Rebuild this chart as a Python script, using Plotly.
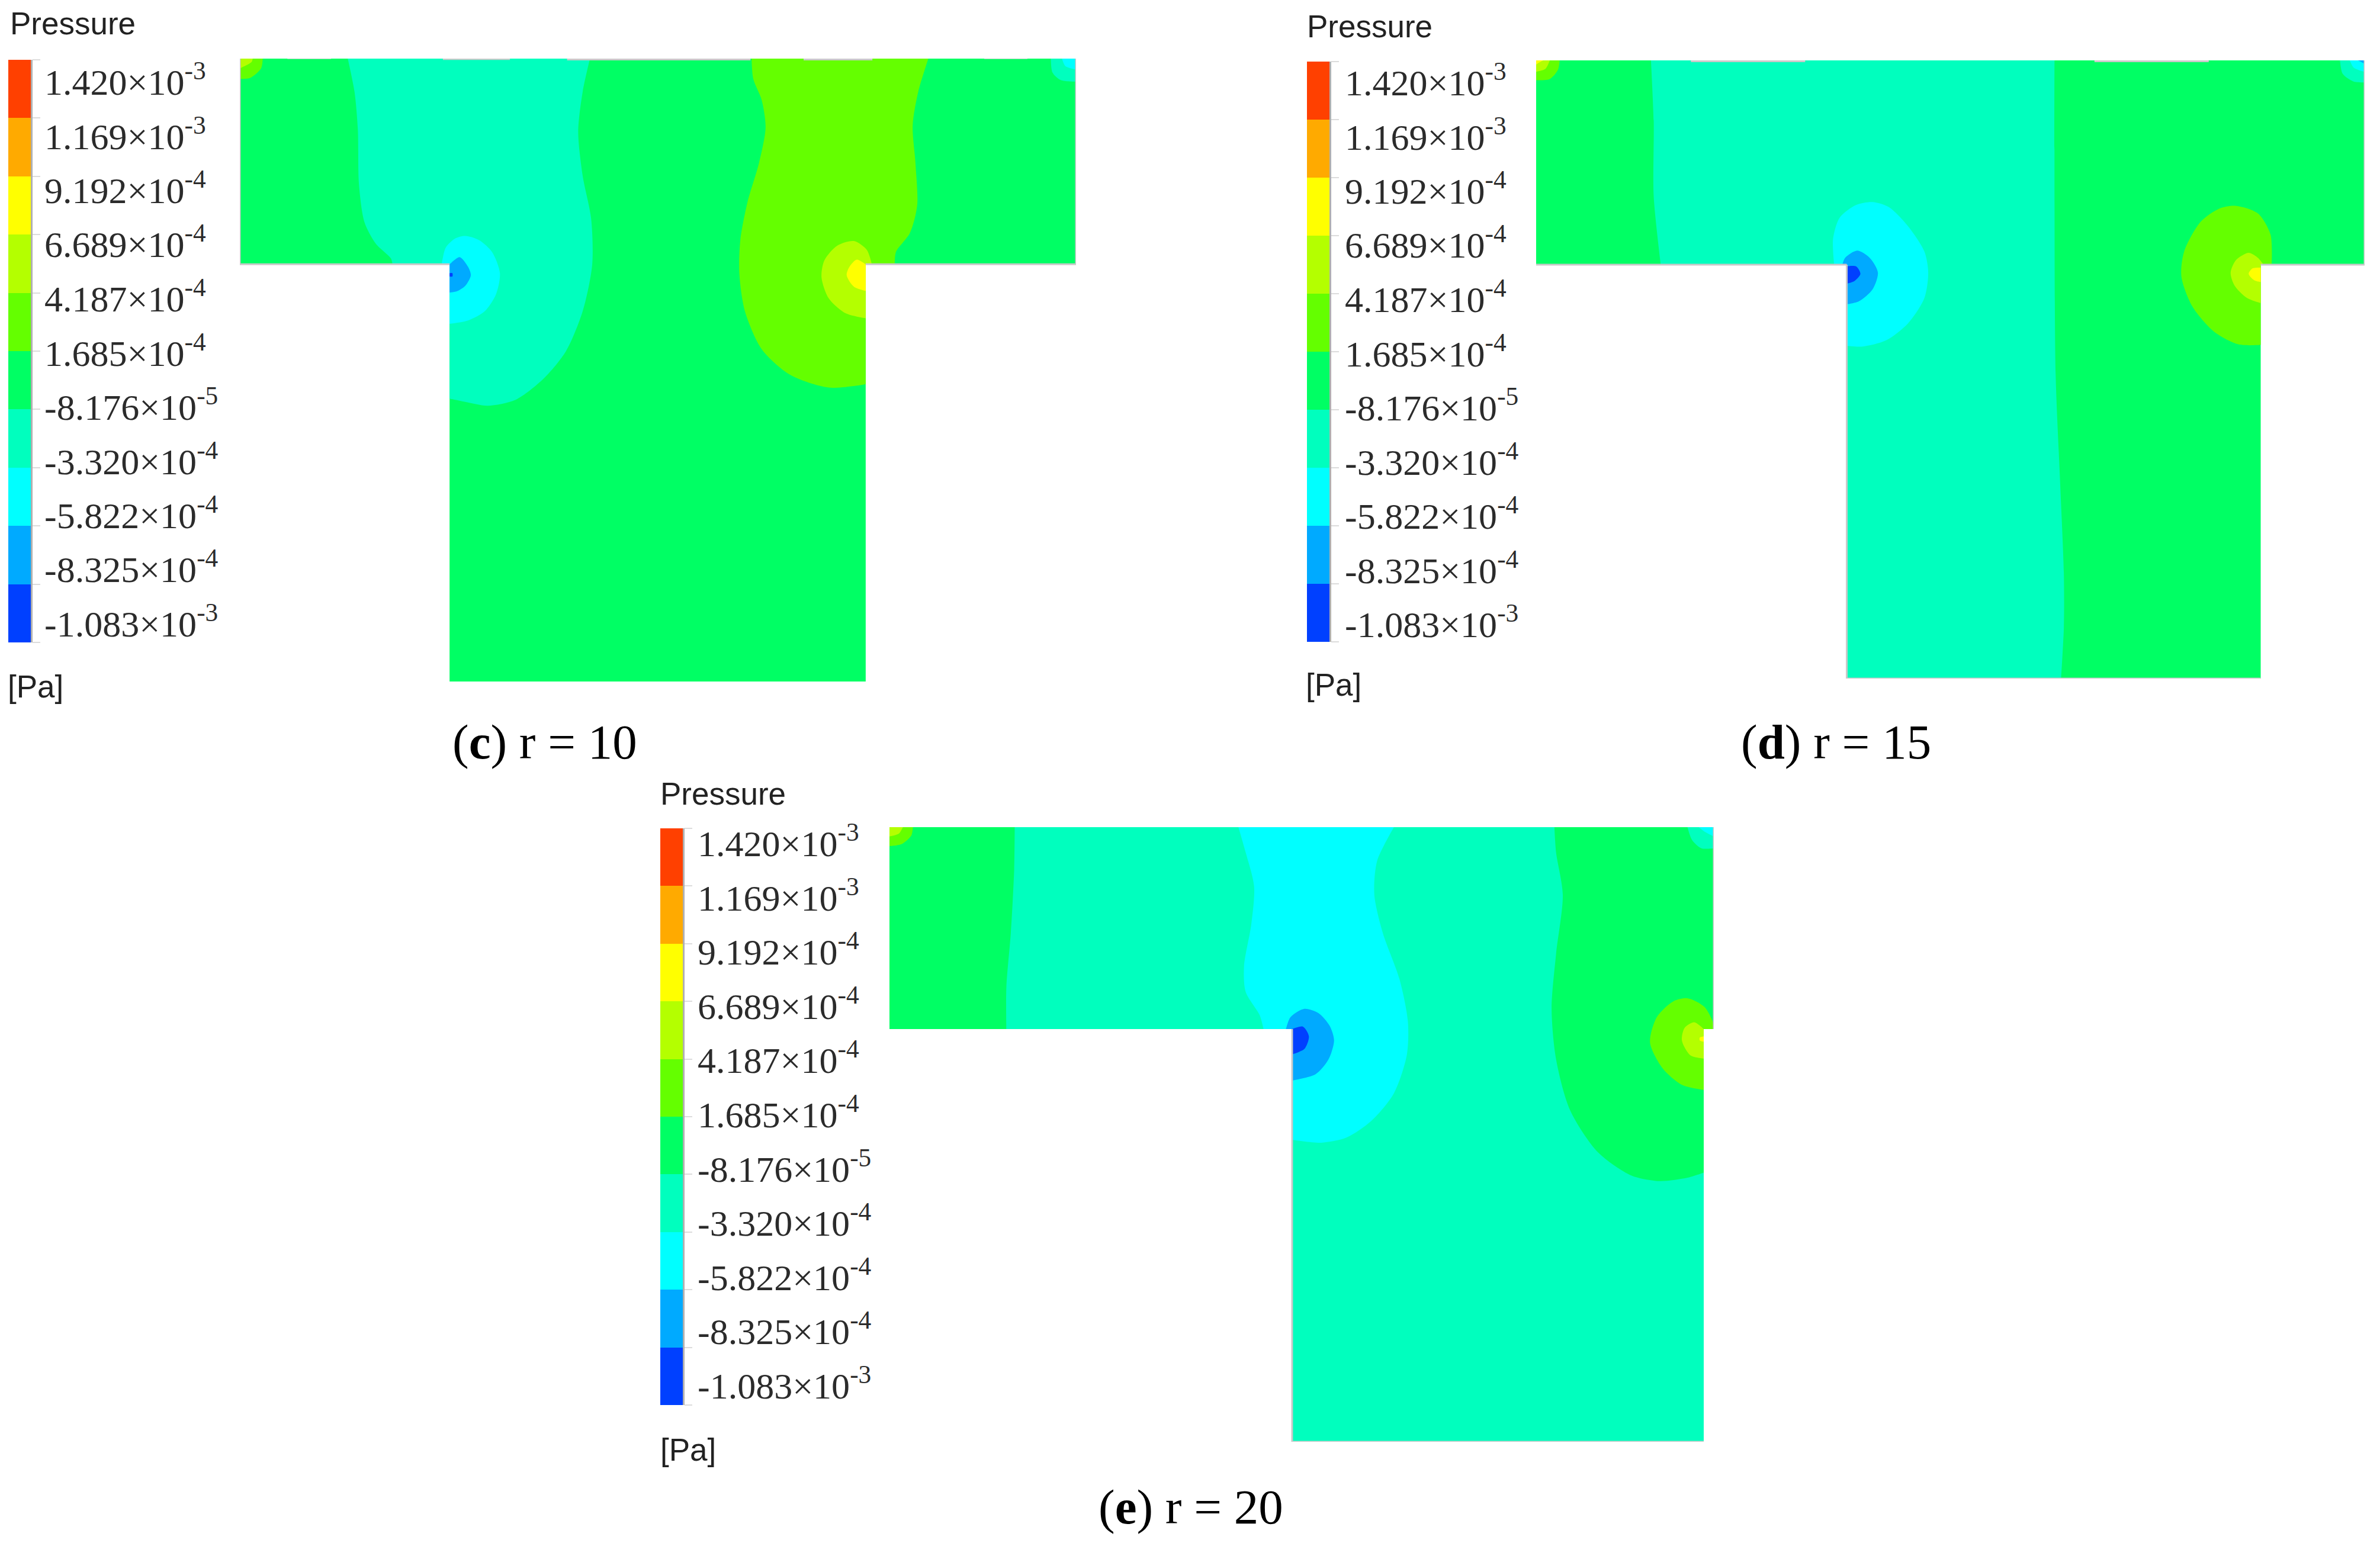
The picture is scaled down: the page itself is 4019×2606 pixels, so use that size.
import plotly.graph_objects as go

WIDTH = 4019
HEIGHT = 2606

pressure_labels = [
    "1.420×10<sup>-3</sup>", "1.169×10<sup>-3</sup>", "9.192×10<sup>-4</sup>",
    "6.689×10<sup>-4</sup>", "4.187×10<sup>-4</sup>", "1.685×10<sup>-4</sup>",
    "-8.176×10<sup>-5</sup>", "-3.320×10<sup>-4</sup>", "-5.822×10<sup>-4</sup>",
    "-8.325×10<sup>-4</sup>", "-1.083×10<sup>-3</sup>",
]

# top band first
band_colors = [
    "#ff4000", "#ffaa00", "#ffff00", "#b4ff00", "#64ff00",
    "#00ff64", "#00ffbe", "#00ffff", "#00aaff", "#0040ff",
]
RED, ORANGE, YELLOW, LIME, GREEN, SPRING, AQUA, CYAN, SKY, BLUE = band_colors

# contour outlines, one small list per region
c_outline = [(27, 52), (1522, 52), (1522, 539), (1146, 539), (1146, 1527),
             (402, 1527), (402, 539), (27, 539)]
c_aqua = [(220, 52), (232, 130), (238, 220), (240, 350), (250, 440), (270, 490),
          (297, 525), (300, 539), (402, 539), (402, 857), (430, 865), (470, 874),
          (520, 860), (570, 810), (610, 745), (640, 650), (657, 540), (655, 430),
          (640, 330), (632, 225), (640, 130), (653, 52)]
c_cyan = [(388, 539), (395, 500), (412, 478), (430, 472), (455, 482), (478, 510),
          (492, 560), (485, 610), (465, 650), (435, 672), (402, 680), (402, 539)]
c_sky = [(402, 539), (420, 522), (435, 545), (440, 565), (430, 590), (415, 603),
         (402, 606)]
c_blue = [(402, 560), (407, 560), (407, 568), (402, 568)]
c_green = [(942, 52), (945, 100), (960, 150), (967, 215), (955, 300), (935, 390),
           (922, 480), (920, 560), (930, 650), (960, 740), (1010, 800), (1080, 831),
           (1146, 823), (1146, 539), (1198, 539), (1200, 510), (1225, 465),
           (1238, 400), (1235, 300), (1230, 210), (1240, 130), (1258, 52)]
c_lime = [(1157, 539), (1148, 505), (1125, 484), (1095, 495), (1072, 530),
          (1067, 570), (1080, 620), (1110, 655), (1146, 667), (1146, 539)]
c_yellow = [(1146, 539), (1130, 528), (1117, 545), (1112, 565), (1125, 592),
            (1146, 602)]
c_tl_green = [(27, 52), (68, 52), (65, 75), (45, 98), (27, 100)]
c_tl_lime = [(27, 52), (50, 52), (48, 60), (27, 75)]
c_tr_aqua = [(1477, 52), (1480, 85), (1495, 103), (1522, 107), (1522, 52)]
c_tr_cyan = [(1497, 52), (1503, 70), (1522, 78), (1522, 52)]

d_outline = [(25, 58), (1540, 58), (1540, 541), (1350, 541), (1350, 1520),
             (593, 1520), (593, 541), (25, 541)]
d_aqua = [(235, 58), (240, 200), (240, 380), (253, 541), (593, 541), (593, 1520),
          (985, 1520), (990, 1400), (990, 1270), (983, 1050), (975, 800), (973, 400),
          (973, 58)]
d_cyan = [(570, 541), (568, 480), (580, 430), (610, 400), (640, 393), (670, 405),
          (705, 450), (735, 510), (742, 560), (735, 620), (705, 680), (665, 720),
          (620, 735), (593, 733), (593, 541)]
d_sky = [(585, 541), (590, 525), (612, 508), (635, 525), (650, 560), (640, 600),
         (615, 628), (593, 635), (593, 541)]
d_blue = [(593, 545), (610, 545), (618, 563), (607, 580), (593, 586)]
d_green = [(1350, 731), (1310, 730), (1265, 700), (1225, 640), (1205, 570),
           (1210, 510), (1240, 440), (1275, 408), (1305, 402), (1345, 420),
           (1368, 470), (1370, 541), (1350, 541)]
d_lime = [(1350, 632), (1325, 620), (1302, 590), (1295, 560), (1305, 530),
          (1328, 513), (1345, 525), (1355, 541), (1350, 541)]
d_yellow = [(1350, 548), (1335, 550), (1328, 563), (1338, 578), (1350, 582)]
d_tl_green = [(25, 58), (68, 58), (65, 80), (50, 102), (25, 105)]
d_tl_lime = [(25, 58), (50, 58), (42, 78), (25, 85)]
d_tl_yellow = [(25, 58), (38, 58), (32, 62), (25, 68)]
d_tr_aqua = [(1495, 58), (1500, 90), (1520, 108), (1540, 110), (1540, 58)]
d_tr_cyan = [(1513, 58), (1520, 75), (1540, 85), (1540, 58)]
d_tr_sky = [(1528, 58), (1540, 58), (1540, 66)]

e_outline = [(23, 50), (1497, 50), (1497, 528), (1479, 528), (1479, 1505),
             (743, 1505), (743, 528), (23, 528)]
e_spring_left = [(23, 50), (247, 50), (246, 150), (240, 300), (232, 430),
                 (232, 528), (23, 528)]
e_cyan = [(647, 50), (660, 110), (675, 190), (670, 280), (657, 380), (660, 440),
          (685, 495), (692, 528), (743, 528), (743, 790), (795, 797), (840, 785),
          (885, 745), (925, 680), (948, 590), (950, 510), (935, 410), (905, 300),
          (890, 210), (895, 130), (925, 50)]
e_sky = [(732, 528), (740, 500), (765, 480), (790, 490), (810, 520), (818, 555),
         (808, 600), (785, 635), (743, 650), (743, 528)]
e_blue = [(743, 528), (762, 522), (773, 545), (765, 575), (743, 588)]
e_spring_right = [(1212, 50), (1215, 110), (1227, 210), (1215, 350), (1207, 480),
                  (1215, 600), (1240, 720), (1290, 820), (1350, 875), (1400, 888),
                  (1450, 880), (1479, 868), (1479, 528), (1497, 528), (1497, 50)]
e_green = [(1479, 672), (1440, 660), (1405, 620), (1383, 560), (1395, 500),
           (1425, 462), (1450, 455), (1480, 475), (1495, 510), (1497, 528),
           (1479, 528)]
e_lime = [(1479, 598), (1455, 590), (1440, 555), (1445, 525), (1462, 512),
          (1479, 528)]
e_yellow = [(1472, 548), (1479, 545), (1479, 558), (1472, 555)]
e_tl_green = [(23, 50), (65, 50), (62, 70), (45, 90), (23, 95)]
e_tl_lime = [(23, 50), (47, 50), (40, 65), (23, 72)]
e_tr_aqua = [(1450, 50), (1458, 80), (1475, 100), (1497, 100), (1497, 50)]
e_tr_cyan = [(1470, 50), (1480, 60), (1497, 72), (1497, 50)]

# pale grey bits along the edges of each shape
c_edges = [[(112, 51), (190, 51)], [(390, 53), (510, 53)], [(612, 54), (940, 54)],
           [(1035, 54), (1158, 54)], [(1358, 51), (1435, 51)],
           [(27, 539), (402, 539)], [(1146, 539), (1522, 539)],
           [(27, 46), (27, 539)], [(1522, 46), (1522, 539)]]
d_edges = [[(70, 56), (145, 56)], [(308, 60), (517, 60)], [(1046, 60), (1255, 60)],
           [(1418, 56), (1480, 56)], [(25, 541), (593, 541)],
           [(1350, 541), (1540, 541)], [(593, 541), (593, 1520)],
           [(593, 1520), (1350, 1520)], [(1540, 50), (1540, 541)]]
e_edges = [[(65, 46), (105, 46)], [(300, 48), (380, 48)], [(1140, 48), (1285, 48)],
           [(1415, 45), (1450, 45)], [(743, 528), (743, 1505)],
           [(743, 1505), (1479, 1505)], [(1497, 45), (1497, 528)]]

panels = [
    {
        "caption": "(<b>c</b>) r = 10", "caption_xy": (920, 1253),
        "base": SPRING, "outline": c_outline, "edges": c_edges,
        "regions": [(AQUA, c_aqua), (CYAN, c_cyan), (SKY, c_sky), (BLUE, c_blue),
                    (GREEN, c_green), (LIME, c_lime), (YELLOW, c_yellow),
                    (GREEN, c_tl_green), (LIME, c_tl_lime),
                    (AQUA, c_tr_aqua), (CYAN, c_tr_cyan)],
        "read_x": (27, 1522), "page_x": (405, 1817),
        "read_y": (52, 1527), "page_y": (99, 1151),
        "bar_x": (14, 52), "bar_y": (101, 1085),
        "title_xy": (15, 40), "unit_xy": (11, 1159),
        "label_x": 73, "label_y": (134, 1049),
    },
    {
        "caption": "(<b>d</b>) r = 15", "caption_xy": (3100, 1253),
        "base": SPRING, "outline": d_outline, "edges": d_edges,
        "regions": [(AQUA, d_aqua), (CYAN, d_cyan), (SKY, d_sky), (BLUE, d_blue),
                    (GREEN, d_green), (LIME, d_lime), (YELLOW, d_yellow),
                    (GREEN, d_tl_green), (LIME, d_tl_lime), (YELLOW, d_tl_yellow),
                    (AQUA, d_tr_aqua), (CYAN, d_tr_cyan), (SKY, d_tr_sky)],
        "read_x": (25, 1540), "page_x": (2594, 3993),
        "read_y": (58, 1520), "page_y": (102, 1146),
        "bar_x": (2207, 2245), "bar_y": (104, 1084),
        "title_xy": (2205, 44), "unit_xy": (2203, 1156),
        "label_x": 2269, "label_y": (135, 1050),
    },
    {
        "caption": "(<b>e</b>) r = 20", "caption_xy": (2011, 2545),
        "base": AQUA, "outline": e_outline, "edges": e_edges,
        "regions": [(SPRING, e_spring_left), (CYAN, e_cyan), (SKY, e_sky),
                    (BLUE, e_blue), (SPRING, e_spring_right), (GREEN, e_green),
                    (LIME, e_lime), (YELLOW, e_yellow),
                    (GREEN, e_tl_green), (LIME, e_tl_lime),
                    (AQUA, e_tr_aqua), (CYAN, e_tr_cyan)],
        "read_x": (23, 1497), "page_x": (1502, 2894),
        "read_y": (50, 1505), "page_y": (1397, 2435),
        "bar_x": (1115, 1153), "bar_y": (1399, 2373),
        "title_xy": (1113, 1340), "unit_xy": (1113, 2448),
        "label_x": 1176, "label_y": (1420, 2336),
    },
]


def px_x(x):
    return x / WIDTH


def px_y(y):
    return 1 - y / HEIGHT


def sharpen_walls(points, outline):
    # a point on the shape's wall goes in twice so the spline keeps the wall straight
    wall_x = {p[0] for p in outline}
    wall_y = {p[1] for p in outline}
    path = []
    for p in points + [points[0]]:
        path.append(p)
        if p[0] in wall_x or p[1] in wall_y:
            path.append(p)
    return path


def add_polygon(fig, points, color, axis, outline):
    path = sharpen_walls(points, outline)
    fig.add_trace(
        go.Scatter(
            x=[p[0] for p in path],
            y=[p[1] for p in path],
            mode="lines",
            fill="toself",
            fillcolor=color,
            line=dict(width=0, shape="spline", smoothing=0.8, simplify=False),
            hoverinfo="skip",
            xaxis=f"x{axis}",
            yaxis=f"y{axis}",
        )
    )


def add_note(fig, text, x, y, size, family, color, xanchor="left"):
    fig.add_annotation(
        text=text,
        xref="paper",
        yref="paper",
        x=px_x(x),
        y=px_y(y),
        xanchor=xanchor,
        yanchor="middle",
        showarrow=False,
        font=dict(size=size, family=family, color=color),
    )


fig = go.Figure()
layout_axes = {}

for i, panel in enumerate(panels):
    shape_axis = 2 * i + 1
    bar_axis = 2 * i + 2

    # the contour regions use the read coordinates, the axis maps them to the page
    fig.add_trace(
        go.Scatter(
            x=[p[0] for p in panel["outline"]] + [panel["outline"][0][0]],
            y=[p[1] for p in panel["outline"]] + [panel["outline"][0][1]],
            mode="lines",
            fill="toself",
            fillcolor=panel["base"],
            line=dict(width=0),
            hoverinfo="skip",
            xaxis=f"x{shape_axis}",
            yaxis=f"y{shape_axis}",
        )
    )
    for color, points in panel["regions"]:
        add_polygon(fig, points, color, shape_axis, panel["outline"])
    for segment in panel["edges"]:
        fig.add_trace(
            go.Scatter(
                x=[p[0] for p in segment],
                y=[p[1] for p in segment],
                mode="lines",
                line=dict(width=3, color="#c9c9c9"),
                hoverinfo="skip",
                xaxis=f"x{shape_axis}",
                yaxis=f"y{shape_axis}",
            )
        )

    layout_axes[f"xaxis{shape_axis}"] = dict(
        domain=[px_x(panel["page_x"][0]), px_x(panel["page_x"][1])],
        range=list(panel["read_x"]),
        visible=False,
        anchor=f"y{shape_axis}",
    )
    layout_axes[f"yaxis{shape_axis}"] = dict(
        domain=[px_y(panel["page_y"][1]), px_y(panel["page_y"][0])],
        range=[panel["read_y"][1], panel["read_y"][0]],
        visible=False,
        anchor=f"x{shape_axis}",
    )

    # colour bar, stacked from the bottom band up
    for color in reversed(band_colors):
        fig.add_trace(
            go.Bar(
                x=[0],
                y=[1],
                width=1,
                marker=dict(color=color, line=dict(width=0)),
                hoverinfo="skip",
                xaxis=f"x{bar_axis}",
                yaxis=f"y{bar_axis}",
            )
        )

    layout_axes[f"xaxis{bar_axis}"] = dict(
        domain=[px_x(panel["bar_x"][0]), px_x(panel["bar_x"][1])],
        range=[-0.5, 0.5],
        visible=False,
        anchor=f"y{bar_axis}",
    )
    layout_axes[f"yaxis{bar_axis}"] = dict(
        domain=[px_y(panel["bar_y"][1]), px_y(panel["bar_y"][0])],
        range=[0, len(band_colors)],
        side="right",
        anchor=f"x{bar_axis}",
        showgrid=False,
        zeroline=False,
        showline=True,
        linecolor="#b0b0b0",
        linewidth=3,
        ticks="outside",
        ticklen=13,
        tickwidth=2,
        tickcolor="#dcdcdc",
        tickvals=list(range(len(band_colors) + 1)),
        showticklabels=False,
    )

    title_x, title_y = panel["title_xy"]
    add_note(fig, "Pressure", title_x, title_y, 53, "Liberation Sans", "#222222")
    unit_x, unit_y = panel["unit_xy"]
    add_note(fig, "[Pa]", unit_x, unit_y, 53, "Liberation Sans", "#222222")

    first_y, last_y = panel["label_y"]
    step = (last_y - first_y) / (len(pressure_labels) - 1)
    for n, label in enumerate(pressure_labels):
        add_note(fig, label, panel["label_x"], first_y + n * step, 62,
                 "Liberation Serif", "#2b2b2b")

    cap_x, cap_y = panel["caption_xy"]
    add_note(fig, panel["caption"], cap_x, cap_y, 83, "Liberation Serif", "#000000",
             xanchor="center")

fig.update_layout(
    width=WIDTH,
    height=HEIGHT,
    margin=dict(l=0, r=0, t=0, b=0),
    paper_bgcolor="white",
    plot_bgcolor="rgba(0,0,0,0)",
    showlegend=False,
    barmode="stack",
    bargap=0,
    **layout_axes,
)

fig.write_html(
    "out.html",
    config={"displayModeBar": False},
    post_script="document.body.style.margin = '0';",
)
